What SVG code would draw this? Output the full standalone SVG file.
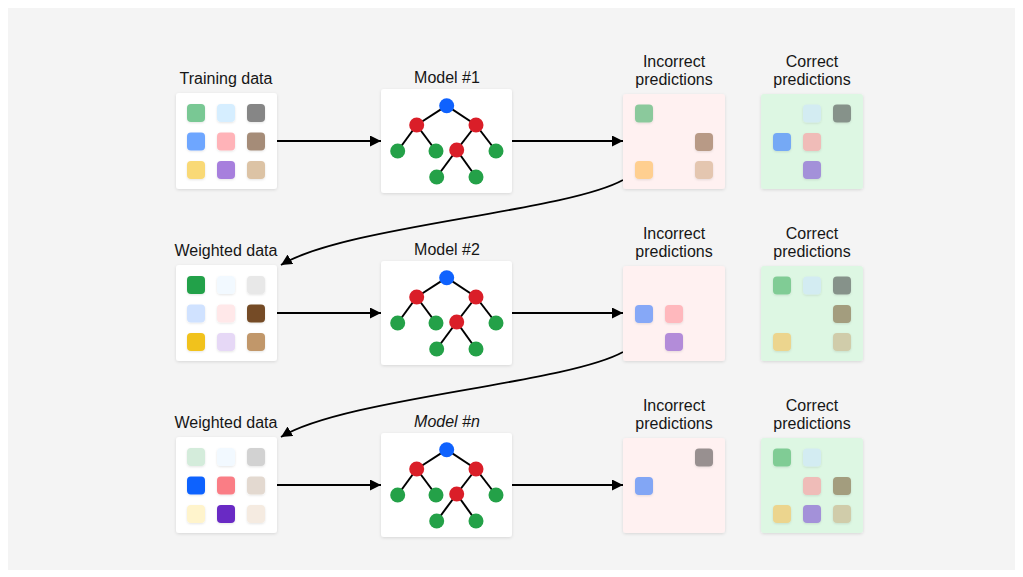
<svg xmlns="http://www.w3.org/2000/svg" xmlns:xlink="http://www.w3.org/1999/xlink" width="1023" height="577" viewBox="0 0 1023 577">
<style>
text{font-family:"Liberation Sans","Noto Sans",Arial,sans-serif;font-size:16px;fill:#161616;text-anchor:middle}
.box{fill:#ffffff;filter:url(#sh)}
.inc{fill:#fff1f1;filter:url(#sh)}
.cor{fill:#ddf7e3;filter:url(#sh)}
.sq{filter:url(#sq)}
.conn{fill:none;stroke:#000;stroke-width:1.8;marker-end:url(#ah)}
.edge{stroke:#000;stroke-width:2}
</style>
<defs>
<filter id="sh" x="-10%" y="-10%" width="120%" height="125%"><feDropShadow dx="0" dy="1" stdDeviation="1.5" flood-color="#000" flood-opacity="0.12"/></filter>
<filter id="sq" x="-30%" y="-30%" width="160%" height="170%"><feDropShadow dx="0" dy="1" stdDeviation="1.2" flood-color="#000" flood-opacity="0.1"/></filter>
<marker id="ah" markerWidth="11" markerHeight="11" refX="11" refY="5.5" orient="auto" markerUnits="userSpaceOnUse"><path d="M0,0 L11,5.5 L0,11 z" fill="#000"/></marker>
<g id="tree">
<line class="edge" x1="446.7" y1="105.7" x2="416.7" y2="125"/>
<line class="edge" x1="446.7" y1="105.7" x2="476" y2="125"/>
<line class="edge" x1="416.7" y1="125" x2="397.7" y2="151"/>
<line class="edge" x1="416.7" y1="125" x2="436" y2="151"/>
<line class="edge" x1="476" y1="125" x2="456.7" y2="150"/>
<line class="edge" x1="476" y1="125" x2="496" y2="151"/>
<line class="edge" x1="456.7" y1="150" x2="436.7" y2="177"/>
<line class="edge" x1="456.7" y1="150" x2="476" y2="177"/>
<circle cx="446.7" cy="105.7" r="7.5" fill="#0f62fe"/>
<circle cx="416.7" cy="125" r="7.5" fill="#da1e28"/>
<circle cx="476" cy="125" r="7.5" fill="#da1e28"/>
<circle cx="397.7" cy="151" r="7.5" fill="#24a148"/>
<circle cx="436" cy="151" r="7.5" fill="#24a148"/>
<circle cx="456.7" cy="150" r="7.5" fill="#da1e28"/>
<circle cx="496" cy="151" r="7.5" fill="#24a148"/>
<circle cx="436.7" cy="177" r="7.5" fill="#24a148"/>
<circle cx="476" cy="177" r="7.5" fill="#24a148"/>
</g>
</defs>
<rect x="0" y="0" width="1023" height="577" fill="#ffffff"/>
<rect x="8" y="8" width="1007" height="562" fill="#f4f4f4"/>

<g id="connectors">
<line class="conn" x1="277" y1="141" x2="381" y2="141"/>
<line class="conn" x1="512" y1="141" x2="623" y2="141"/>
<line class="conn" x1="277" y1="313" x2="381" y2="313"/>
<line class="conn" x1="512" y1="313" x2="623" y2="313"/>
<line class="conn" x1="277" y1="485" x2="381" y2="485"/>
<line class="conn" x1="512" y1="485" x2="623" y2="485"/>
<path class="conn" d="M623,180 C565,212 345,226 281,265"/>
<path class="conn" d="M623,352 C565,384 345,398 281,437"/>
</g>

<!-- Row 1 -->
<g id="data1">
<text x="226" y="84">Training data</text>
<rect class="box" x="176" y="93" width="101" height="96" rx="3"/>
<g class="sq">
<rect x="187" y="104" width="18" height="18" rx="4" fill="#79c894"/>
<rect x="217" y="104" width="18" height="18" rx="4" fill="#d6eeff"/>
<rect x="247" y="104" width="18" height="18" rx="4" fill="#868686"/>
<rect x="187" y="132.5" width="18" height="18" rx="4" fill="#6ea6ff"/>
<rect x="217" y="132.5" width="18" height="18" rx="4" fill="#ffb3b8"/>
<rect x="247" y="132.5" width="18" height="18" rx="4" fill="#a58c78"/>
<rect x="187" y="161" width="18" height="18" rx="4" fill="#f9d976"/>
<rect x="217" y="161" width="18" height="18" rx="4" fill="#a77fdd"/>
<rect x="247" y="161" width="18" height="18" rx="4" fill="#dcc3a5"/>
</g>
</g>
<g id="model1">
<text x="447" y="83">Model #1</text>
<rect class="box" x="381" y="89" width="131" height="104" rx="3"/>
<use xlink:href="#tree"/>
</g>
<g id="incorrect1">
<text x="674" y="66.5">Incorrect</text>
<text x="674" y="85">predictions</text>
<rect class="inc" x="623" y="94" width="102" height="95" rx="3"/>
<g class="sq">
<rect x="635" y="104.5" width="18" height="18" rx="4" fill="#8bc99c"/>
<rect x="695" y="133" width="18" height="18" rx="4" fill="#b89a86"/>
<rect x="635" y="161" width="18" height="18" rx="4" fill="#ffcf90"/>
<rect x="695" y="161" width="18" height="18" rx="4" fill="#e4c6b0"/>
</g>
</g>
<g id="correct1">
<text x="812" y="66.5">Correct</text>
<text x="812" y="85">predictions</text>
<rect class="cor" x="761" y="94" width="102" height="95" rx="3"/>
<g class="sq">
<rect x="803" y="104.5" width="18" height="18" rx="4" fill="#d3ecf2"/>
<rect x="833" y="104.5" width="18" height="18" rx="4" fill="#86928a"/>
<rect x="773" y="133" width="18" height="18" rx="4" fill="#74a9f5"/>
<rect x="803" y="133" width="18" height="18" rx="4" fill="#f0bcb8"/>
<rect x="803" y="161" width="18" height="18" rx="4" fill="#a391d9"/>
</g>
</g>

<!-- Row 2 -->
<g id="data2">
<text x="226" y="256">Weighted data</text>
<rect class="box" x="176" y="265" width="101" height="96" rx="3"/>
<g class="sq">
<rect x="187" y="276" width="18" height="18" rx="4" fill="#24a148"/>
<rect x="217" y="276" width="18" height="18" rx="4" fill="#f2f9ff"/>
<rect x="247" y="276" width="18" height="18" rx="4" fill="#e8e8e8"/>
<rect x="187" y="304.5" width="18" height="18" rx="4" fill="#d0e2ff"/>
<rect x="217" y="304.5" width="18" height="18" rx="4" fill="#ffe8e9"/>
<rect x="247" y="304.5" width="18" height="18" rx="4" fill="#744c26"/>
<rect x="187" y="333" width="18" height="18" rx="4" fill="#f1c21b"/>
<rect x="217" y="333" width="18" height="18" rx="4" fill="#e6d8f6"/>
<rect x="247" y="333" width="18" height="18" rx="4" fill="#c1976a"/>
</g>
</g>
<g id="model2">
<text x="447" y="255">Model #2</text>
<rect class="box" x="381" y="261" width="131" height="104" rx="3"/>
<use xlink:href="#tree" transform="translate(0,172)"/>
</g>
<g id="incorrect2">
<text x="674" y="238.5">Incorrect</text>
<text x="674" y="257">predictions</text>
<rect class="inc" x="623" y="266" width="102" height="95" rx="3"/>
<g class="sq">
<rect x="635" y="305" width="18" height="18" rx="4" fill="#86a8f7"/>
<rect x="665" y="305" width="18" height="18" rx="4" fill="#ffb8bd"/>
<rect x="665" y="333" width="18" height="18" rx="4" fill="#b38cd9"/>
</g>
</g>
<g id="correct2">
<text x="812" y="238.5">Correct</text>
<text x="812" y="257">predictions</text>
<rect class="cor" x="761" y="266" width="102" height="95" rx="3"/>
<g class="sq">
<rect x="773" y="276.5" width="18" height="18" rx="4" fill="#80cc95"/>
<rect x="803" y="276.5" width="18" height="18" rx="4" fill="#d3ecf2"/>
<rect x="833" y="276.5" width="18" height="18" rx="4" fill="#86928a"/>
<rect x="833" y="305" width="18" height="18" rx="4" fill="#a39d7e"/>
<rect x="773" y="333" width="18" height="18" rx="4" fill="#ecd58e"/>
<rect x="833" y="333" width="18" height="18" rx="4" fill="#d0ccaa"/>
</g>
</g>

<!-- Row 3 -->
<g id="data3">
<text x="226" y="428">Weighted data</text>
<rect class="box" x="176" y="437" width="101" height="96" rx="3"/>
<g class="sq">
<rect x="187" y="448" width="18" height="18" rx="4" fill="#d4ecdb"/>
<rect x="217" y="448" width="18" height="18" rx="4" fill="#f2f9ff"/>
<rect x="247" y="448" width="18" height="18" rx="4" fill="#d2d2d2"/>
<rect x="187" y="476.5" width="18" height="18" rx="4" fill="#0f62fe"/>
<rect x="217" y="476.5" width="18" height="18" rx="4" fill="#fa7d85"/>
<rect x="247" y="476.5" width="18" height="18" rx="4" fill="#e3d9d0"/>
<rect x="187" y="505" width="18" height="18" rx="4" fill="#fff4cc"/>
<rect x="217" y="505" width="18" height="18" rx="4" fill="#6929c4"/>
<rect x="247" y="505" width="18" height="18" rx="4" fill="#f5ebe1"/>
</g>
</g>
<g id="model3">
<text x="447" y="427" font-style="italic">Model #n</text>
<rect class="box" x="381" y="433" width="131" height="104" rx="3"/>
<use xlink:href="#tree" transform="translate(0,344)"/>
</g>
<g id="incorrect3">
<text x="674" y="410.5">Incorrect</text>
<text x="674" y="429">predictions</text>
<rect class="inc" x="623" y="438" width="102" height="95" rx="3"/>
<g class="sq">
<rect x="695" y="448.5" width="18" height="18" rx="4" fill="#989090"/>
<rect x="635" y="477" width="18" height="18" rx="4" fill="#82a6f5"/>
</g>
</g>
<g id="correct3">
<text x="812" y="410.5">Correct</text>
<text x="812" y="429">predictions</text>
<rect class="cor" x="761" y="438" width="102" height="95" rx="3"/>
<g class="sq">
<rect x="773" y="448.5" width="18" height="18" rx="4" fill="#80cc95"/>
<rect x="803" y="448.5" width="18" height="18" rx="4" fill="#d3ecf2"/>
<rect x="803" y="477" width="18" height="18" rx="4" fill="#efbcb8"/>
<rect x="833" y="477" width="18" height="18" rx="4" fill="#a39d7e"/>
<rect x="773" y="505" width="18" height="18" rx="4" fill="#ecd58e"/>
<rect x="803" y="505" width="18" height="18" rx="4" fill="#a391d9"/>
<rect x="833" y="505" width="18" height="18" rx="4" fill="#d0ccaa"/>
</g>
</g>
</svg>
